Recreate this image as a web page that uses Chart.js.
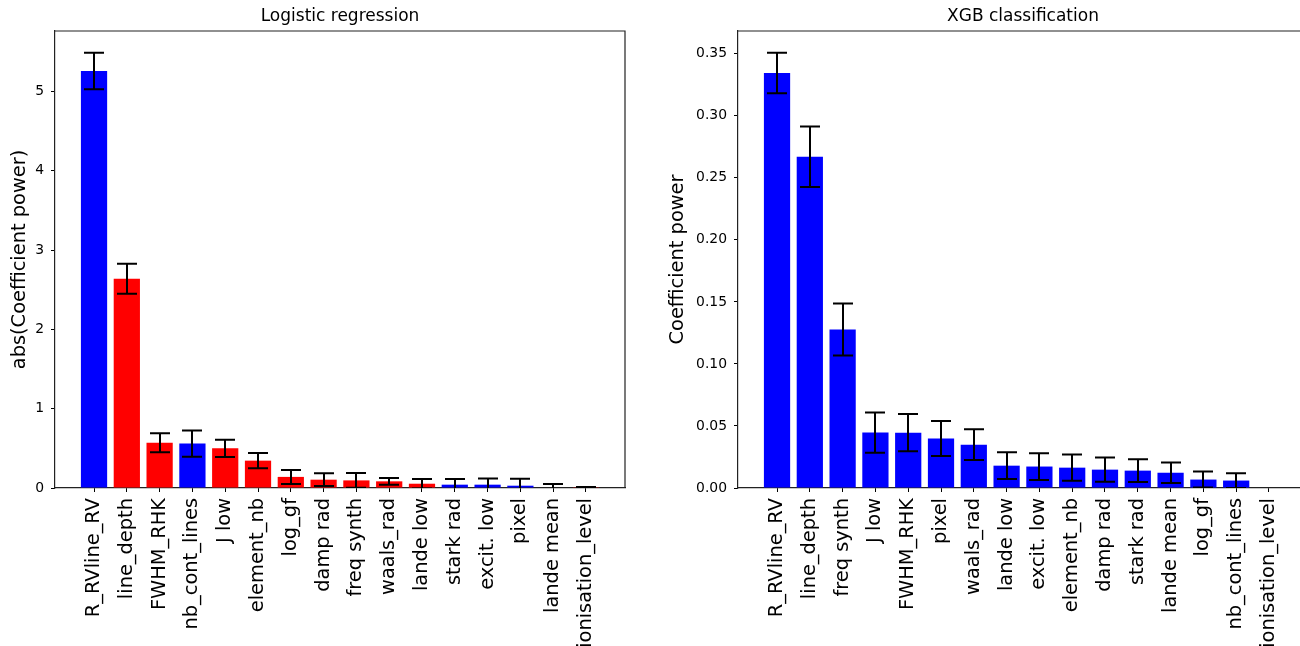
<!DOCTYPE html>
<html>
<head>
<meta charset="utf-8">
<script src="https://cdn.jsdelivr.net/npm/chart.js@4.4.1/dist/chart.umd.min.js"></script>
<style>
  html, body { margin: 0; padding: 0; background: #fff; overflow: hidden; width: 1300px; height: 646px; }
  .panel { position: absolute; top: 0; width: 650px; height: 646px; overflow: hidden; }
  #left { left: 0; }
  #right { left: 650px; }
  canvas { display: block; }
</style>
</head>
<body>
<div class="panel" id="left"><canvas id="lr" width="650" height="646"></canvas></div>
<div class="panel" id="right"><canvas id="xgb" width="683" height="646"></canvas></div>
<script>
// Feature importance: logistic regression coefficients
const lrTitle = 'Logistic regression';
const lrFeatures = ['R_RVline_RV', 'line_depth', 'FWHM_RHK', 'nb_cont_lines', 'J low', 'element_nb',
  'log_gf', 'damp rad', 'freq synth', 'waals_rad', 'lande low', 'stark rad', 'excit. low', 'pixel',
  'lande mean', 'ionisation_level'];
const lrValues = [5.26, 2.64, 0.57, 0.56, 0.50, 0.345, 0.14, 0.105, 0.096, 0.084, 0.054, 0.042, 0.042, 0.029, 0.006, 0.003];
const lrErrors = [0.23, 0.19, 0.12, 0.165, 0.11, 0.095, 0.088, 0.08, 0.093, 0.043, 0.06, 0.071, 0.079, 0.088, 0.044, 0.01];
const lrSigns  = ['b', 'r', 'r', 'b', 'r', 'r', 'r', 'r', 'r', 'r', 'r', 'b', 'b', 'b', 'b', 'r'];
const lrYTicks = [0, 1, 2, 3, 4, 5];

// Feature importance: XGB classifier
const xgbTitle = 'XGB classification';
const xgbFeatures = ['R_RVline_RV', 'line_depth', 'freq synth', 'J low', 'FWHM_RHK', 'pixel', 'waals_rad',
  'lande low', 'excit. low', 'element_nb', 'damp rad', 'stark rad', 'lande mean', 'log_gf',
  'nb_cont_lines', 'ionisation_level'];
const xgbValues = [0.3345, 0.267, 0.1277, 0.0447, 0.0446, 0.0399, 0.0349, 0.018, 0.0173, 0.0164, 0.0148, 0.0140, 0.0123, 0.0068, 0.006, 0];
const xgbErrors = [0.0163, 0.0243, 0.021, 0.0162, 0.015, 0.0142, 0.0124, 0.0108, 0.0108, 0.0106, 0.0097, 0.0091, 0.0082, 0.0064, 0.0059, 0];
const xgbSigns  = ['b', 'b', 'b', 'b', 'b', 'b', 'b', 'b', 'b', 'b', 'b', 'b', 'b', 'b', 'b', 'b'];
const xgbYTicks = [0, 0.05, 0.10, 0.15, 0.20, 0.25, 0.30, 0.35];

const palette = { b: '#0000ff', r: '#ff0000' };
const FONT = "'DejaVu Sans', 'Liberation Sans', sans-serif";
const SPINE = '#222';

// Draws the error bars, the top/right frame and the panel title
const decorPlugin = {
  id: 'decor',
  afterDatasetsDraw(chart, args, opts) {
    const { ctx, chartArea: a, scales: { x, y } } = chart;
    ctx.save();
    ctx.beginPath();
    ctx.rect(a.left, a.top - 1, a.right - a.left, a.bottom - a.top + 1);
    ctx.clip();
    ctx.strokeStyle = '#000';
    ctx.lineWidth = 2;
    opts.values.forEach((v, i) => {
      const e = opts.errors[i];
      if (!e) return;
      const px = Math.round(x.getPixelForValue(i));
      const yt = y.getPixelForValue(v + e);
      const yb = y.getPixelForValue(v - e);
      ctx.beginPath();
      ctx.moveTo(px, yt); ctx.lineTo(px, yb);
      ctx.moveTo(px - 10, yt); ctx.lineTo(px + 10, yt);
      ctx.moveTo(px - 10, yb); ctx.lineTo(px + 10, yb);
      ctx.stroke();
    });
    ctx.restore();
  },
  afterDraw(chart, args, opts) {
    const { ctx, chartArea: a } = chart;
    ctx.save();
    ctx.strokeStyle = SPINE;
    ctx.lineWidth = 1.2;
    ctx.beginPath();
    ctx.moveTo(a.left, a.top); ctx.lineTo(a.right, a.top); ctx.lineTo(a.right, a.bottom);
    ctx.stroke();
    ctx.fillStyle = '#000';
    ctx.font = '17px ' + FONT;
    ctx.textAlign = 'center';
    ctx.textBaseline = 'alphabetic';
    ctx.fillText(opts.title, (a.left + a.right) / 2, 21);
    ctx.restore();
  }
};

function makeChart(canvasId, cfg) {
  const n = cfg.features.length;
  const top = Math.max(...cfg.values.map((v, i) => v + cfg.errors[i])) * 1.05;
  const span = (n - 1) + 0.8;
  return new Chart(document.getElementById(canvasId), {
    type: 'bar',
    data: {
      datasets: [{
        data: cfg.values.map((v, i) => ({ x: i, y: v })),
        backgroundColor: cfg.signs.map(s => palette[s]),
        borderWidth: 0,
        barPercentage: 0.8,
        categoryPercentage: 1.0
      }]
    },
    options: {
      responsive: false,
      animation: false,
      devicePixelRatio: 1,
      layout: { padding: { top: 31, right: 25, left: 0, bottom: 0 } },
      plugins: {
        legend: { display: false },
        tooltip: { enabled: false },
        decor: { values: cfg.values, errors: cfg.errors, title: cfg.title }
      },
      scales: {
        x: {
          type: 'linear',
          offset: false,
          min: -0.4 - 0.05 * span,
          max: (n - 1) + 0.4 + 0.05 * span,
          afterBuildTicks: s => { s.ticks = cfg.features.map((_, i) => ({ value: i })); },
          afterFit: s => { s.height = 158; },
          grid: { display: true, drawOnChartArea: false, drawTicks: true, tickLength: 4, tickColor: '#000', offset: false },
          border: { display: true, color: SPINE, width: 1.2 },
          ticks: {
            autoSkip: false,
            maxRotation: 90,
            minRotation: 90,
            padding: 6,
            color: '#000',
            font: { family: FONT, size: 19.4 },
            callback: v => cfg.features[v]
          }
        },
        y: {
          min: 0,
          max: top,
          afterBuildTicks: s => { s.ticks = cfg.yTicks.map(v => ({ value: v })); },
          afterFit: s => { s.width = cfg.axisWidth; },
          grid: { display: true, drawOnChartArea: false, drawTicks: true, tickLength: 4, tickColor: '#000' },
          border: { display: true, color: SPINE, width: 1.2 },
          ticks: {
            padding: 7,
            color: '#000',
            font: { family: FONT, size: 13.9 },
            callback: v => cfg.fmt(v)
          },
          title: {
            display: true,
            text: cfg.yLabel,
            color: '#000',
            font: { family: FONT, size: 19.4, lineHeight: 1.2 },
            padding: { top: cfg.titlePad, bottom: 0 }
          }
        }
      }
    },
    plugins: [decorPlugin]
  });
}

makeChart('lr', {
  title: lrTitle, features: lrFeatures, values: lrValues, errors: lrErrors, signs: lrSigns,
  yTicks: lrYTicks, yLabel: 'abs(Coefficient power)', axisWidth: 55, titlePad: 8,
  fmt: v => String(Math.round(v))
});

makeChart('xgb', {
  title: xgbTitle, features: xgbFeatures, values: xgbValues, errors: xgbErrors, signs: xgbSigns,
  yTicks: xgbYTicks, yLabel: 'Coefficient power', axisWidth: 88, titlePad: 16,
  fmt: v => v.toFixed(2)
});
</script>
</body>
</html>
